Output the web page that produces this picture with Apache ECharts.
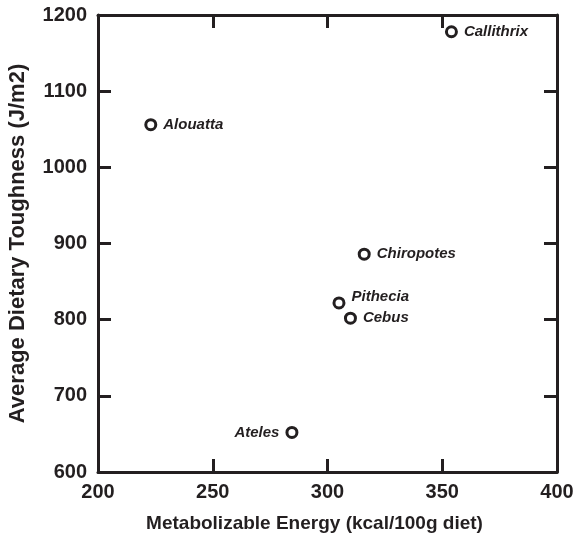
<!DOCTYPE html>
<html>
<head>
    <meta charset="utf-8">
    <title>Toughness vs energy</title>
    <style>
        html, body { margin: 0; padding: 0; background: #fff; }
        #chart { width: 578px; height: 534px; }
    </style>
    <script src="https://cdn.jsdelivr.net/npm/echarts@6/dist/echarts.min.js"></script>
</head>
<body>
    <div id="chart"></div>
    <script>
        // data
        var genera = ['Alouatta', 'Ateles', 'Callithrix', 'Cebus', 'Chiropotes', 'Pithecia'];
        var energy = [223, 284.5, 354, 310, 316, 305];
        var toughness = [1056, 652, 1178, 802, 886, 822];

        var ink = '#231f20';
        var font = '"Liberation Sans", Arial, Helvetica, sans-serif';

        // where each name sits next to its point
        function labelFor(name) {
            if (name === 'Ateles') return { position: 'left', distance: 6 };
            if (name === 'Pithecia') return { position: 'right', distance: 6, offset: [0, -6] };
            return { position: 'right', distance: 6 };
        }

        var points = genera.map(function (g, i) {
            return { name: g, value: [energy[i], toughness[i]], label: labelFor(g) };
        });

        var tickStyle = { show: true, inside: true, length: 13, lineStyle: { color: ink, width: 3 } };
        var lineStyle = { show: true, lineStyle: { color: ink, width: 3 } };
        var tickFont = { color: ink, fontFamily: font, fontWeight: 'bold', fontSize: 20, formatter: function (v) { return String(v); } };

        var chart = echarts.init(document.getElementById('chart'));
        chart.setOption({
            animation: false,
            grid: { left: 98, right: 21, top: 15, bottom: 62, outerBoundsMode: 'none', containLabel: false },
            xAxis: [{
                type: 'value', min: 200, max: 400, interval: 50,
                name: 'Metabolizable Energy (kcal/100g diet)',
                nameLocation: 'middle', nameGap: 42,
                nameTextStyle: { color: ink, fontFamily: font, fontWeight: 'bold', fontSize: 19, padding: [0, 26, 0, 0] },
                axisLine: lineStyle, axisTick: tickStyle,
                axisLabel: Object.assign({ margin: 10 }, tickFont),
                splitLine: { show: false }
            }, {
                type: 'value', position: 'top', min: 200, max: 400, interval: 50,
                axisLine: lineStyle, axisTick: tickStyle,
                axisLabel: { show: false }, splitLine: { show: false }
            }],
            yAxis: [{
                type: 'value', min: 600, max: 1200, interval: 100,
                name: 'Average Dietary Toughness (J/m2)',
                nameLocation: 'middle', nameGap: 69,
                nameTextStyle: { color: ink, fontFamily: font, fontWeight: 'bold', fontSize: 22 },
                axisLine: lineStyle, axisTick: tickStyle,
                axisLabel: Object.assign({ margin: 11 }, tickFont),
                splitLine: { show: false }
            }, {
                type: 'value', position: 'right', min: 600, max: 1200, interval: 100,
                axisLine: lineStyle, axisTick: tickStyle,
                axisLabel: { show: false }, splitLine: { show: false }
            }],
            series: [{
                type: 'scatter',
                data: points,
                symbol: 'circle',
                symbolSize: 10,
                itemStyle: { color: '#fff', borderColor: ink, borderWidth: 3, opacity: 1 },
                label: {
                    show: true,
                    formatter: '{b}',
                    color: ink,
                    fontFamily: font,
                    fontWeight: 'bold',
                    fontStyle: 'italic',
                    fontSize: 15
                }
            }]
        });
    </script>
</body>
</html>
